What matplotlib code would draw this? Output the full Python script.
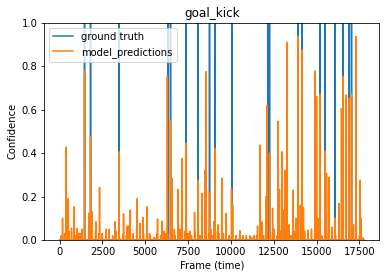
import numpy as np
import matplotlib
matplotlib.use("Agg")
import matplotlib.pyplot as plt

n_frames = 17770

# frames where the ground truth event is on
gt_frames = [1459, 1809, 3466, 6324, 6476, 7392, 8092, 8751, 9067, 10076,
             12147, 12252, 13909, 14142, 15210, 15502, 16085, 16552, 16902, 17036]

# model prediction peaks (frame, confidence)
peak_frames = [175, 373, 490, 560, 700, 858, 1033, 1200, 1459, 1715, 1809, 1900,
               2120, 2334, 2480, 2900, 3232, 3466, 3734, 3920, 4020, 4125, 4300,
               4533, 4690, 4866, 5117, 5250, 5550, 5718, 5974, 6150, 6290, 6476,
               6558, 6730, 6908, 7030, 7159, 7392, 7620, 7877, 8092, 8200, 8308,
               8483, 8560, 8751, 8820, 9000, 9067, 9260, 9475, 9560, 9726, 9880,
               10035, 10100, 10525, 10900, 11150, 11350, 11552, 11710, 11820,
               12040, 12118, 12252, 12430, 12742, 12830, 12975, 13060, 13168,
               13267, 13400, 13617, 13800, 13909, 14050, 14142, 14230, 14500,
               14918, 15000, 15100, 15210, 15502, 15580, 15730, 15880, 16085,
               16310, 16450, 16552, 16727, 16902, 17036, 17150, 17293, 17544, 17600]
peak_values = [0.10, 0.427, 0.19, 0.04, 0.054, 0.153, 0.054, 0.03, 0.778, 0.123, 0.475, 0.13,
               0.084, 0.242, 0.03, 0.05, 0.084, 0.406, 0.12, 0.064, 0.064, 0.138, 0.02,
               0.19, 0.077, 0.104, 0.153, 0.03, 0.01, 0.097, 0.087, 0.03, 0.752, 0.552,
               0.284, 0.02, 0.233, 0.05, 0.376, 0.445, 0.04, 0.127, 0.273, 0.02, 0.215,
               0.322, 0.775, 0.22, 0.05, 0.084, 0.422, 0.07, 0.284, 0.03, 0.123, 0.01,
               0.233, 0.16, 0.043, 0.02, 0.015, 0.02, 0.064, 0.437, 0.084,
               0.20, 0.62, 0.40, 0.146, 0.547, 0.233, 0.406, 0.138, 0.322,
               0.91, 0.07, 0.23, 0.10, 0.936, 0.16, 0.874, 0.15, 0.046,
               0.778, 0.66, 0.10, 0.67, 0.41, 0.307, 0.288, 0.06, 0.10,
               0.168, 0.606, 0.752, 0.667, 0.652, 0.675, 0.07, 0.936, 0.276, 0.10]

# low background confidence, one value every 200 frames starting at frame 100
noise_values = [0.02, 0.03, 0.01, 0.04, 0.02, 0.03, 0.05, 0.02, 0.03, 0.01,
                0.04, 0.03, 0.02, 0.05, 0.03, 0.02, 0.04, 0.01, 0.03, 0.02,
                0.04, 0.03, 0.05, 0.02, 0.03, 0.04, 0.02, 0.01, 0.03, 0.02,
                0.04, 0.03, 0.02, 0.05, 0.03, 0.02, 0.04, 0.03, 0.02, 0.04,
                0.03, 0.02, 0.05, 0.03, 0.02, 0.04, 0.03, 0.02, 0.03, 0.02,
                0.01, 0.02, 0.01, 0.02, 0.01, 0.02, 0.01, 0.02, 0.03, 0.02,
                0.04, 0.03, 0.05, 0.02, 0.04, 0.03, 0.05, 0.02, 0.04, 0.03,
                0.05, 0.04, 0.02, 0.05, 0.03, 0.04, 0.02, 0.05, 0.03, 0.04,
                0.02, 0.05, 0.03, 0.04, 0.05, 0.03, 0.04, 0.02, 0.01]

ground_truth = np.zeros(n_frames)
ground_truth[gt_frames] = 1.0

predictions = np.zeros(n_frames)
noise_frames = np.arange(100, 100 + 200 * len(noise_values), 200)
predictions[noise_frames] = noise_values
predictions[peak_frames] = np.maximum(predictions[peak_frames], peak_values)

frames = np.arange(n_frames)

fig = plt.figure(figsize=(386 / 72, 278 / 72), dpi=72)
ax = fig.add_axes([44.3 / 386, 1 - 240 / 278, (379.3 - 44.3) / 386, (240 - 22.7) / 278])
ax.plot(frames, ground_truth, label="ground truth")
ax.plot(frames, predictions, label="model_predictions")
ax.set_ylim(0, 1)
ax.set_title("goal_kick")
ax.set_xlabel("Frame (time)")
ax.set_ylabel("Confidence")
ax.legend(loc="upper left")
fig.savefig("out.png", dpi=72)
